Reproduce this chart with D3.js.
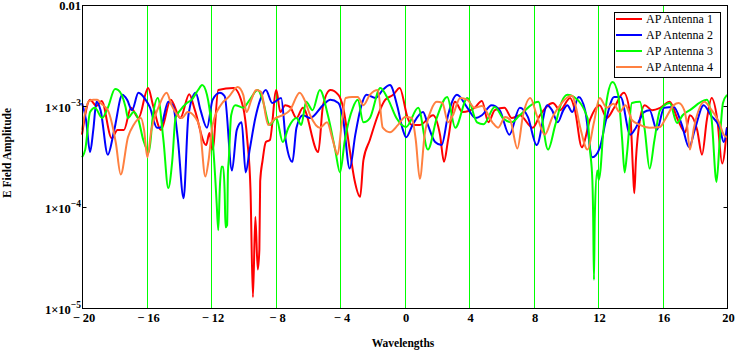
<!DOCTYPE html>
<html>
<head>
<meta charset="utf-8">
<script src="https://cdn.jsdelivr.net/npm/d3@7"></script>
<style>
  body { margin: 0; background: #fff; }
  svg text { font-family: "Liberation Serif", "Times New Roman", serif; }
</style>
</head>
<body>
<svg id="chart" width="736" height="353"></svg>
<script>
// amplitudes in units of 1e-3
var UNIT = 1e-3;

var ant1 = [[-20,0.52],[-19.5,1.15],[-19.1,1.0],[-18.78,1.12],[-18.16,0.48],[-17.8,0.58],[-17.4,0.58],[-16.96,0.96],[-16.5,0.76],[-15.9,1.51],[-15.6,1.02],[-15.1,0.58],[-14.5,1.15],[-13.9,0.76],[-13.35,1.31],[-13.0,0.91],[-12.3,0.41],[-12.1,0.54],[-11.9,0.37],[-11.55,1.44],[-10.6,1.51],[-10.0,0.96],[-9.75,0.46],[-9.55,0.147],[-9.4,0.0128],[-9.25,0.08],[-9.1,0.024],[-9.0,0.038],[-8.95,0.18],[-8.8,0.29],[-8.6,0.44],[-8.35,0.46],[-7.95,1.44],[-7.7,0.87],[-7.4,1.02],[-7.1,0.98],[-6.7,0.76],[-6.3,0.96],[-5.35,0.35],[-5.05,1.02],[-4.6,1.44],[-4.1,1.29],[-3.8,0.96],[-3.4,0.37],[-3.1,0.185],[-2.75,0.126],[-2.55,0.29],[-2.15,0.46],[-1.65,0.81],[-1.2,1.15],[-0.7,1.29],[-0.3,1.51],[0.2,0.76],[0.45,0.65],[0.95,0.65],[1.77,0.81],[2.2,0.52],[2.45,0.28],[2.7,0.46],[3.13,1.10],[3.6,0.87],[4.35,0.96],[4.8,1.12],[5.2,0.69],[5.6,0.91],[6.2,0.96],[6.65,0.76],[7.15,0.81],[7.95,0.61],[8.4,0.81],[9.2,1.07],[9.65,0.91],[10.27,1.20],[10.57,0.91],[11.0,0.39],[11.5,0.73],[12.1,1.02],[12.55,0.76],[13.0,0.96],[13.6,1.35],[14.0,0.81],[14.17,0.23],[14.25,0.137],[14.35,0.29],[14.6,0.73],[14.9,1.02],[15.35,0.91],[15.85,0.96],[16.45,1.10],[16.95,0.73],[17.4,0.55],[17.7,0.81],[18.15,0.58],[18.45,0.33],[18.75,0.73],[19.05,1.20],[19.4,0.73],[19.7,0.27],[20,0.62]];

var ant2 = [[-20,1.07],[-19.75,0.73],[-19.5,0.35],[-19.3,0.58],[-19.1,1.10],[-18.85,0.91],[-18.4,0.33],[-18.0,0.58],[-17.5,1.29],[-17.2,1.15],[-16.9,0.91],[-16.5,1.35],[-16.05,1.15],[-15.8,0.98],[-15.35,0.61],[-15.15,0.61],[-14.65,1.10],[-14.35,1.0],[-14.05,0.46],[-13.7,0.122],[-13.4,0.81],[-12.95,1.35],[-12.65,0.91],[-12.25,0.61],[-11.9,1.15],[-11.45,1.35],[-11.15,1.25],[-10.7,0.23],[-10.4,0.58],[-10.1,0.69],[-9.85,0.22],[-9.6,0.37],[-9.25,0.76],[-8.95,1.15],[-8.6,1.44],[-8.2,1.07],[-7.65,1.20],[-7.35,0.44],[-6.95,0.28],[-6.7,0.61],[-6.3,0.81],[-5.85,0.76],[-5.05,1.02],[-4.6,1.15],[-4.1,1.07],[-3.8,0.73],[-3.4,0.24],[-3.05,0.52],[-2.75,0.91],[-2.35,1.29],[-1.8,1.20],[-1.35,1.44],[-0.9,1.61],[-0.45,1.0],[-0.1,0.58],[0.1,0.49],[0.5,0.65],[1.15,0.87],[1.45,0.65],[1.9,0.44],[2.3,0.41],[2.7,0.81],[2.95,1.10],[3.25,1.29],[3.9,0.96],[4.4,0.76],[4.8,0.81],[5.4,1.02],[5.9,0.91],[6.5,0.52],[7.15,0.96],[7.65,0.78],[8.2,0.41],[8.85,1.02],[9.15,0.91],[9.5,0.69],[9.85,0.91],[10.1,1.02],[10.4,0.87],[10.8,1.23],[11.2,0.91],[11.65,0.31],[12.1,0.38],[12.5,0.73],[13.0,1.23],[13.4,1.23],[14.0,0.52],[14.35,0.61],[14.85,0.87],[15.2,0.91],[15.65,0.58],[16.1,0.96],[16.7,0.98],[17.2,0.65],[17.65,0.39],[18.0,0.58],[18.55,1.02],[19.0,0.81],[19.55,0.61],[19.8,0.44],[20,0.61]];

var ant3 = [[-20,0.31],[-19.8,0.37],[-19.5,0.87],[-19.2,0.96],[-18.75,0.76],[-18.4,0.96],[-17.95,1.47],[-17.75,1.44],[-17.3,0.98],[-17.15,0.76],[-16.8,0.87],[-16.5,0.73],[-16.2,0.46],[-15.85,0.35],[-15.6,0.81],[-15.3,1.20],[-14.95,0.46],[-14.65,0.154],[-14.4,0.29],[-14.2,0.76],[-13.9,0.91],[-13.5,1.07],[-13.2,1.15],[-12.8,1.44],[-12.55,1.61],[-12.25,1.29],[-11.95,0.58],[-11.75,0.21],[-11.65,0.11],[-11.55,0.059],[-11.45,0.158],[-11.35,0.25],[-11.25,0.25],[-11.15,0.137],[-11.1,0.063],[-11.0,0.066],[-10.95,0.22],[-10.9,0.29],[-10.75,0.81],[-10.5,1.02],[-10.0,0.96],[-9.6,1.15],[-9.1,1.44],[-8.8,1.15],[-8.35,0.65],[-7.95,0.76],[-7.55,0.44],[-7.2,0.61],[-6.7,0.76],[-6.4,0.65],[-6.1,1.10],[-5.7,0.91],[-5.25,1.44],[-4.75,0.81],[-4.3,0.37],[-4.0,0.22],[-3.7,0.46],[-3.2,0.96],[-2.9,1.15],[-2.55,0.69],[-2.15,0.76],[-1.5,1.51],[-1.0,1.15],[-0.5,0.76],[0.1,0.62],[0.85,0.96],[1.45,0.37],[2.0,0.76],[2.65,1.23],[3.15,0.61],[3.9,1.20],[4.5,0.69],[4.9,0.66],[5.6,0.98],[6.1,0.76],[6.65,0.69],[7.15,0.81],[8.3,1.10],[8.9,0.37],[9.35,0.65],[9.75,1.10],[10.1,1.29],[10.5,1.23],[11.35,0.76],[11.5,0.37],[11.65,0.185],[11.7,0.08],[11.75,0.019],[11.8,0.08],[11.95,0.23],[12.05,0.185],[12.15,0.23],[12.3,0.49],[12.6,1.29],[12.9,1.73],[13.25,1.29],[13.5,0.46],[13.65,0.22],[13.8,0.34],[14.1,1.07],[14.6,1.10],[14.9,0.58],[15.2,0.24],[15.5,0.46],[15.85,0.91],[16.45,1.07],[16.9,0.68],[17.25,0.81],[17.7,0.91],[18.75,1.15],[19.05,0.73],[19.35,0.177],[19.55,0.46],[19.75,1.07],[20,1.29]];

var ant4 = [[-20,0.58],[-19.6,1.10],[-19.3,1.15],[-19.05,1.15],[-18.8,1.05],[-18.4,0.91],[-17.9,0.43],[-17.6,0.21],[-17.15,0.49],[-16.8,0.65],[-16.35,0.76],[-16.15,0.58],[-15.95,0.31],[-15.7,0.58],[-15.25,0.98],[-14.75,1.35],[-14.45,1.02],[-13.8,0.76],[-13.45,0.87],[-13.0,0.78],[-12.7,0.62],[-12.35,0.20],[-12.15,0.29],[-11.9,0.65],[-11.4,1.02],[-10.9,1.23],[-10.35,1.54],[-10.0,1.29],[-9.8,0.87],[-9.5,1.15],[-9.2,1.44],[-8.9,1.38],[-8.45,0.65],[-8.0,0.76],[-7.55,0.81],[-7.1,0.91],[-6.5,1.35],[-6.2,1.15],[-5.85,0.81],[-5.25,0.61],[-4.8,0.69],[-4.45,0.46],[-4.15,0.33],[-3.9,0.65],[-3.65,1.20],[-3.25,1.23],[-2.9,1.23],[-2.55,1.02],[-2.15,1.29],[-1.65,1.44],[-1.35,0.61],[-0.9,0.55],[-0.4,0.65],[0.05,0.78],[0.45,0.76],[0.7,0.46],[0.95,0.19],[1.25,0.52],[1.65,0.91],[2.0,1.10],[2.35,1.07],[2.7,0.69],[3.0,0.81],[3.45,1.20],[3.9,1.15],[4.35,0.96],[4.8,1.0],[5.45,0.69],[5.8,0.61],[6.25,0.78],[6.55,0.73],[7.0,0.38],[7.35,0.81],[7.8,1.20],[8.2,0.81],[8.7,0.52],[9.15,0.76],[9.65,1.02],[10.15,1.23],[10.4,1.26],[10.6,1.02],[10.9,0.61],[11.35,0.37],[11.75,0.69],[12.1,1.20],[12.55,0.96],[12.95,1.05],[13.35,0.87],[13.7,1.02],[14.1,0.73],[14.6,0.65],[15.2,0.61],[15.85,0.62],[16.15,0.73],[16.7,1.02],[17.0,1.07],[17.35,0.91],[17.5,0.69],[17.7,0.37],[17.95,0.61],[18.6,1.10],[18.95,0.96],[19.5,0.69],[19.8,0.52],[20,0.49]];

var seriesNames = ["AP Antenna 1", "AP Antenna 2", "AP Antenna 3", "AP Antenna 4"];
var seriesColors = ["#ff0000", "#0000ff", "#00ff00", "#ff8040"];
var xTicks = [-20, -16, -12, -8, -4, 0, 4, 8, 12, 16, 20];
var gridTicks = [-16, -12, -8, -4, 0, 4, 8, 12, 16];
var yTicks = [1e-5, 1e-4, 1e-3, 1e-2];

var svg = d3.select("#chart");
var plotL = 82, plotR = 727, plotT = 5, plotB = 308;

var x = d3.scaleLinear().domain([-20, 20]).range([plotL, plotR]);
var y = d3.scaleLog().domain([1e-5, 1e-2]).range([plotB, plotT]);

//vertical green grid lines
svg.append("g").selectAll("line")
	.data(gridTicks)
	.enter().append("line")
	.attr("x1", function (d) { return Math.round(x(d)) + 0.5; })
	.attr("x2", function (d) { return Math.round(x(d)) + 0.5; })
	.attr("y1", plotT)
	.attr("y2", plotB)
	.attr("stroke", "#00ff00")
	.attr("stroke-width", 1);

//the traces
var line = d3.line()
	.x(function (d) { return x(d[0]); })
	.y(function (d) { return y(d[1] * UNIT); })
	.curve(d3.curveMonotoneX);

var allSeries = [ant1, ant2, ant3, ant4];
svg.append("g").selectAll("path")
	.data(allSeries)
	.enter().append("path")
	.attr("d", line)
	.attr("fill", "none")
	.attr("stroke", function (d, i) { return seriesColors[i]; })
	.attr("stroke-width", 2)
	.attr("stroke-linejoin", "round");

//frame
svg.append("rect")
	.attr("x", plotL + 0.5)
	.attr("y", plotT + 0.5)
	.attr("width", plotR - plotL)
	.attr("height", plotB - plotT)
	.attr("fill", "none")
	.attr("stroke", "#000")
	.attr("stroke-width", 1);

//inner ticks on both sides
var yAxisL = d3.axisLeft(y).tickValues([1e-4, 1e-3]).tickSize(-4).tickFormat("");
var yAxisR = d3.axisRight(y).tickValues([1e-4, 1e-3]).tickSize(-4).tickFormat("");
svg.append("g").attr("transform", "translate(" + (plotL + 0.5) + ",0)").call(yAxisL)
	.call(function (g) { g.select(".domain").remove(); });
svg.append("g").attr("transform", "translate(" + (plotR + 0.5) + ",0)").call(yAxisR)
	.call(function (g) { g.select(".domain").remove(); });

//y tick labels, 1x10^n style
var yLab = svg.append("g").selectAll("text")
	.data(yTicks)
	.enter().append("text")
	.attr("text-anchor", "end")
	.attr("x", plotL - 1)
	.attr("y", function (d) { return d === 1e-2 ? y(d) + 5 : y(d) + 6; })
	.attr("font-size", 12.5)
	.attr("font-weight", "bold");

yLab.each(function (d) {
	var t = d3.select(this);
	var e = Math.round(Math.log10(d));
	if (e === -2) {
		t.text("0.01");
	} else {
		t.append("tspan").text("1\u00d710");
		t.append("tspan")
			.attr("dy", -6)
			.attr("font-size", 9.5)
			.text("\u2212" + (-e));
	}
});

//x tick labels
svg.append("g").selectAll("text")
	.data(xTicks)
	.enter().append("text")
	.attr("text-anchor", "middle")
	.attr("x", function (d) { return x(d) + (d < 0 ? 2 : 1.5); })
	.attr("y", 322)
	.attr("font-size", 12.5)
	.attr("font-weight", "bold")
	.text(function (d) { return d < 0 ? "\u2212 " + (-d) : d; });

//axis titles
svg.append("text")
	.attr("x", 403)
	.attr("y", 347)
	.attr("text-anchor", "middle")
	.attr("font-size", 11.5)
	.attr("font-weight", "bold")
	.text("Wavelengths");

svg.append("text")
	.attr("transform", "translate(11,153) rotate(-90)")
	.attr("text-anchor", "middle")
	.attr("font-size", 11.5)
	.attr("font-weight", "bold")
	.text("E Field Amplitude");

//legend
var legend = svg.append("g").attr("transform", "translate(614,12)");
legend.append("rect")
	.attr("x", 0.5).attr("y", 0.5)
	.attr("width", 106).attr("height", 65)
	.attr("fill", "#fff")
	.attr("stroke", "#000")
	.attr("stroke-width", 1);

var item = legend.selectAll(".item")
	.data(seriesNames)
	.enter().append("g")
	.attr("class", "item")
	.attr("transform", function (d, i) { return "translate(0," + (7 + i * 16) + ")"; });

item.append("line")
	.attr("x1", 2).attr("x2", 28)
	.attr("y1", 0).attr("y2", 0)
	.attr("stroke", function (d, i) { return seriesColors[i]; })
	.attr("stroke-width", 2);

item.append("text")
	.attr("x", 32)
	.attr("y", 4)
	.attr("font-size", 12)
	.text(function (d) { return d; });
</script>
</body>
</html>
